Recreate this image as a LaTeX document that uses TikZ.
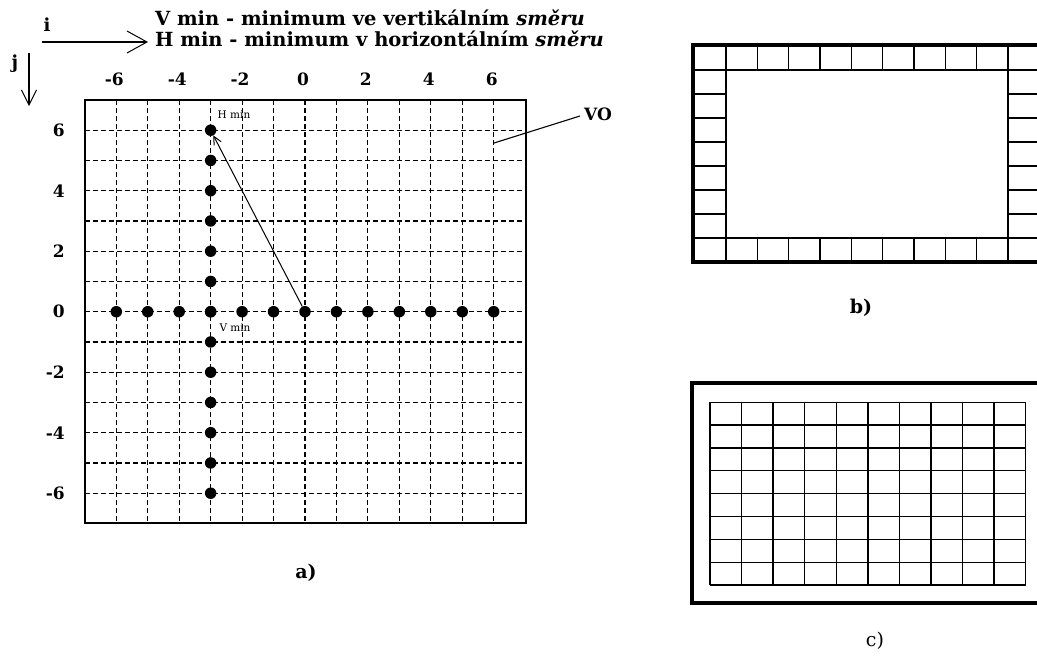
\documentclass[tikz,border=0pt]{standalone}
\usepackage{fontspec}
\setmainfont{DejaVu Serif}
\usetikzlibrary{arrows.meta}
\tikzset{
  gridline/.style={dash pattern=on 5pt off 3pt, line width=1.1pt},
  dot/.style={circle, fill=black, inner sep=0pt, minimum size=11.5pt},
  numlab/.style={font=\bfseries\fontsize{17}{17}\selectfont, inner sep=0pt},
  headtxt/.style={font=\bfseries\fontsize{19.5}{19.5}\selectfont, inner sep=0pt, anchor=west},
  caplab/.style={font=\bfseries\fontsize{19}{19}\selectfont, inner sep=0pt},
  smalllab/.style={font=\fontsize{10.5}{10.5}\selectfont, inner sep=0pt},
  thickframe/.style={line width=3.2pt},
  cellline/.style={line width=1.5pt},
  openarrow/.style={-{Straight Barb[length=20pt,width=22pt,line width=1pt]}, line width=1.2pt},
}
\begin{document}
\begin{tikzpicture}[x=1pt,y=-1pt]
\useasboundingbox (0,0) rectangle (1037,657);
\fill[white] (0,0) rectangle (1037,657);
\clip (0,0) rectangle (1037,657);

% ---- header ----
\node[font=\bfseries\fontsize{18}{18}\selectfont, inner sep=0pt] (ilab) at (47,25) {i};
\coordinate (is) at (42,42);
\coordinate (ie) at (148,42);
\draw[openarrow] (is) -- (ie);
\node[font=\bfseries\fontsize{18}{18}\selectfont, inner sep=0pt] (jlab) at (15,64) {j};
\coordinate (js) at (29,53);
\coordinate (je) at (29,106);
\draw[-{Straight Barb[length=15pt,width=15pt,line width=1pt]}, line width=1.2pt] (js) -- (je);
\node[headtxt] (t1) at (155,18) {V min - minimum ve vertikálním \textit{směru}};
\node[headtxt] (t2) at (155,39) {H min - minimum v horizontálním \textit{směru}};

% ---- panel a ----
\draw[gridline] \foreach \k in {-6,...,6} { (305+31.45*\k,100) -- (305+31.45*\k,523) };
\draw[gridline] \foreach \k in {-6,...,6} { (85,311.7-30.25*\k) -- (526,311.7-30.25*\k) };
\draw[line width=1.6pt] (85,100) rectangle (526,523);
\foreach \k in {-6,-4,...,6} {
  \node[numlab] (top\k) at (303+31.45*\k,79) {\k};
  \node[numlab, anchor=east] (left\k) at (65,311.7-30.25*\k) {\k};
}
\foreach \k [count=\n from 0] in {-6,...,6} {
  \node[dot] (r\n) at (305+31.45*\k,311.7) {};
}
\foreach \k [count=\n from 0] in {-6,...,6} {
  \node[dot] (c\n) at (305-3*31.45,311.7-30.25*\k) {};
}
\draw[line width=1pt, -{Straight Barb[length=8pt,width=8pt]}] (r6) -- (c12);
\node[smalllab] (hmin) at (234,115) {H min};
\node[smalllab] (vmin) at (235,328) {V min};
\node[font=\bfseries\fontsize{17}{17}\selectfont, inner sep=0pt, anchor=west] (vo) at (584,114) {VO};
\coordinate (vop) at (494,143);
\coordinate (voe) at (580,116);
\draw[line width=1.1pt] (vop) -- (voe);
\node[caplab] (capa) at (306,573) {a)};

% ---- panel b ----
\draw[cellline] (726,45) -- (726,262) (1008,45) -- (1008,262)
                (693,70) -- (1040,70) (693,238) -- (1040,238);
\foreach \k in {1,...,8} {
  \draw[cellline] (726+31.33*\k,45) -- (726+31.33*\k,70)
                  (726+31.33*\k,238) -- (726+31.33*\k,262);
}
\foreach \k in {1,...,6} {
  \draw[cellline] (693,70+24*\k) -- (726,70+24*\k)
                  (1008,70+24*\k) -- (1040,70+24*\k);
}
\draw[thickframe] (693,45) rectangle (1041,262);
\node[caplab] (capb) at (861,308) {b)};

% ---- panel c ----
\foreach \k in {0,...,10} {
  \draw[line width=1.3pt] (710+31.57*\k,402.3) -- (710+31.57*\k,585);
}
\foreach \k in {0,...,8} {
  \draw[line width=1.3pt] (710,402.3+22.84*\k) -- (1025.7,402.3+22.84*\k);
}
\draw[thickframe] (692,383) rectangle (1044,603);
\node[caplab, font=\fontsize{19}{19}\selectfont] (capc) at (875,641) {c)};
\end{tikzpicture}
\end{document}
